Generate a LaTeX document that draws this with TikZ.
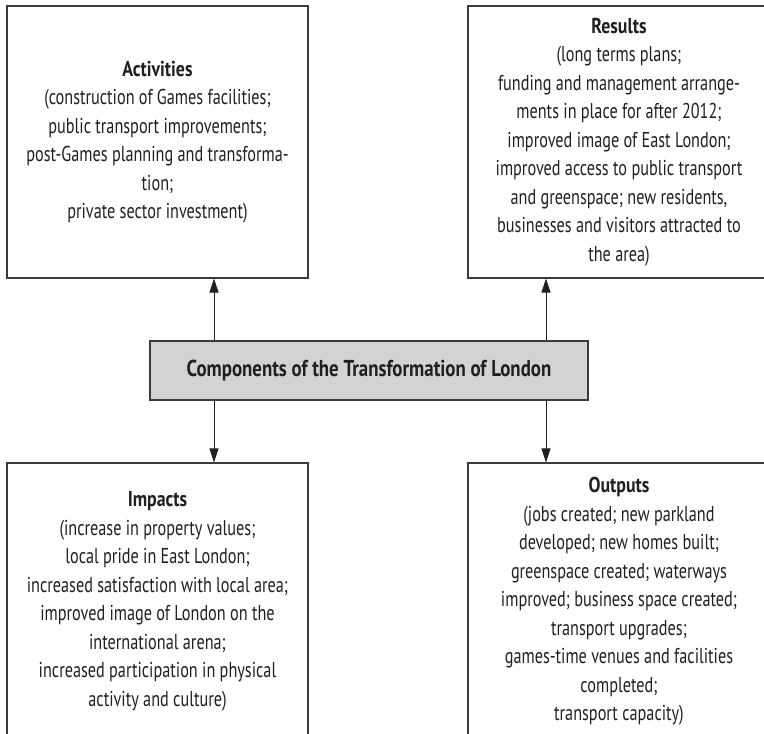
\documentclass[tikz,border=0pt]{standalone}
\usepackage{fontspec}
\setmainfont{PT Sans}[FakeStretch=0.755]
\newfontfamily\headfont{PT Sans}[FakeStretch=0.83]
\newfontfamily\titlefont{PT Sans}[FakeStretch=0.82]
\usetikzlibrary{arrows.meta}
\definecolor{ink}{HTML}{231F20}
\definecolor{boxline}{HTML}{3A3A3A}
\definecolor{centerfill}{HTML}{D2D3D5}
\newcommand{\hd}[1]{{\headfont\bfseries #1}}
\begin{document}
\begin{tikzpicture}[x=1bp,y=-1bp,
  every node/.style={text=ink,font=\fontsize{21.5bp}{28.5bp}\selectfont},
  outbox/.style={draw=boxline,line width=1.2bp,rectangle,align=center,inner sep=0pt},
  centerbox/.style={draw=boxline,line width=1.2bp,fill=centerfill,rectangle,align=center,inner sep=0pt,minimum width=438bp,minimum height=59bp,font=\titlefont\bfseries\fontsize{23bp}{28bp}\selectfont},
  arr/.style={draw=ink,line width=0.9bp,-{Triangle[length=14bp,width=9bp]}}]
\useasboundingbox (0,0) rectangle (764,734);
\clip (0,0) rectangle (764,734);
\node[outbox,minimum width=301bp,minimum height=272bp] (act) at (157.5,142)
  {\hd{Activities}\\(construction of Games facilities;\\public transport improvements;\\post-Games planning and transforma-\\tion;\\private sector investment)};
\node[outbox,minimum width=302bp,minimum height=272bp] (res) at (619,142)
  {\hd{Results}\\(long terms plans;\\funding and management arrange-\\ments in place for after 2012;\\improved image of East London;\\improved access to public transport\\and greenspace; new residents,\\businesses and visitors attracted to\\the area)};
\node[centerbox] (ctr) at (369,370.5) {Components of the Transformation of London};
\node[outbox,minimum width=301bp,minimum height=277bp] (imp) at (157.5,601.5)
  {\hd{Impacts}\\(increase in property values;\\local pride in East London;\\increased satisfaction with local area;\\improved image of London on the\\international arena;\\increased participation in physical\\activity and culture)};
\node[outbox,minimum width=302bp,minimum height=277bp] (out) at (619,601.5)
  {\hd{Outputs}\\(jobs created; new parkland\\developed; new homes built;\\greenspace created; waterways\\improved; business space created;\\transport upgrades;\\games-time venues and facilities\\completed;\\transport capacity)};
\coordinate (lx) at (214,0);
\coordinate (rx) at (546,0);
\draw[arr] (ctr.north -| lx) -- (act.south -| lx);
\draw[arr] (ctr.north -| rx) -- (res.south -| rx);
\draw[arr] (ctr.south -| lx) -- (imp.north -| lx);
\draw[arr] (ctr.south -| rx) -- (out.north -| rx);
\end{tikzpicture}
\end{document}
